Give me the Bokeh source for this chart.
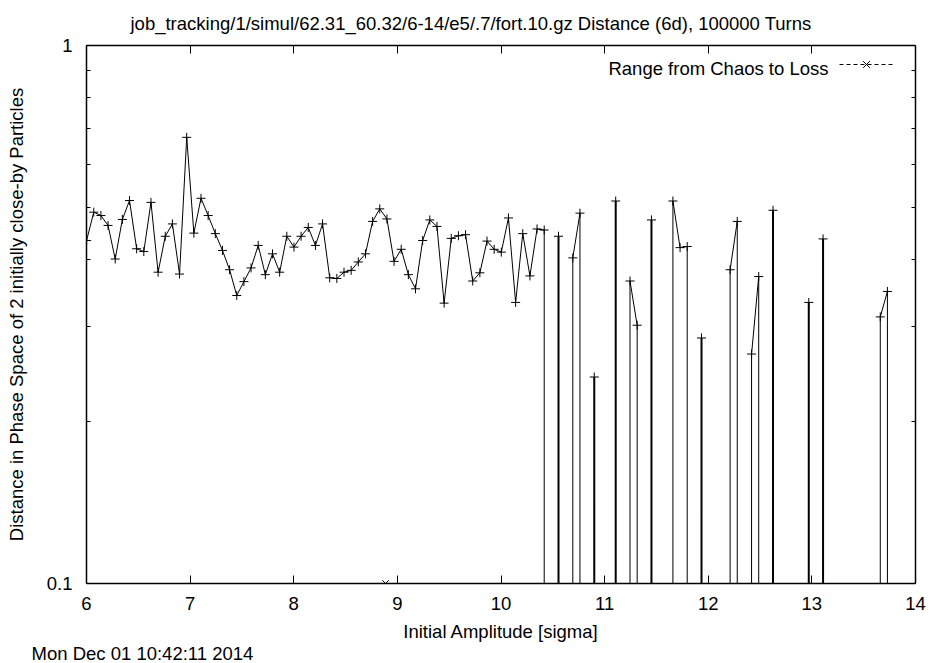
import numpy as np
from bokeh.plotting import figure
from bokeh.models import (Range1d, FixedTicker, LinearAxis, LogAxis, Label, Legend,
                          LegendItem, CustomJSTickFormatter, Title)
from bokeh.core.properties import value
from bokeh.embed import file_html
from bokeh.resources import INLINE

title_text = "job_tracking/1/simul/62.31_60.32/6-14/e5/.7/fort.10.gz Distance (6d),  100000 Turns"
x_label = "Initial Amplitude [sigma]"
y_label = "Distance in Phase Space of 2 initially close-by Particles"
date_text = "Mon Dec 01 10:42:11 2014"
legend_text = "Range from Chaos to Loss"

# initial amplitude of each particle pair [sigma]
amplitude = [
    6.001, 6.070, 6.139, 6.208, 6.277, 6.346, 6.415, 6.484, 6.553, 6.622,
    6.691, 6.760, 6.829, 6.898, 6.967, 7.036, 7.105, 7.174, 7.243, 7.312,
    7.381, 7.450, 7.519, 7.588, 7.657, 7.726, 7.795, 7.864, 7.933, 8.002,
    8.071, 8.140, 8.209, 8.278, 8.347, 8.416, 8.485, 8.554, 8.623, 8.692,
    8.761, 8.830, 8.899, 8.968, 9.037, 9.106, 9.175, 9.244, 9.313, 9.382,
    9.451, 9.520, 9.589, 9.658, 9.727, 9.796, 9.865, 9.934, 10.003, 10.072,
    10.141, 10.210, 10.279, 10.348, 10.417, 10.486, 10.555, 10.624, 10.693, 10.762,
    10.831, 10.900, 10.969, 11.038, 11.107, 11.176, 11.245, 11.314, 11.383, 11.452,
    11.521, 11.590, 11.659, 11.728, 11.797, 11.866, 11.935, 12.004, 12.073, 12.142,
    12.211, 12.280, 12.349, 12.418, 12.487, 12.556, 12.625, 12.694, 12.763, 12.832,
    12.901, 12.970, 13.039, 13.108, 13.177, 13.246, 13.315, 13.384, 13.453, 13.522,
    13.591, 13.660, 13.729, 13.798,
]
# distance in phase space (None = particle lost)
distance = [
    0.434, 0.490, 0.483, 0.463, 0.401, 0.475, 0.515, 0.419, 0.414, 0.511,
    0.379, 0.442, 0.466, 0.376, 0.675, 0.448, 0.520, 0.483, 0.447, 0.416,
    0.383, 0.343, 0.364, 0.386, 0.425, 0.375, 0.410, 0.379, 0.442, 0.422,
    0.442, 0.459, 0.425, 0.466, 0.370, 0.369, 0.379, 0.382, 0.396, 0.410,
    0.471, 0.497, 0.476, 0.397, 0.418, 0.375, 0.353, 0.434, 0.474, 0.461,
    0.332, 0.438, 0.443, 0.445, 0.365, 0.378, 0.433, 0.418, 0.413, 0.478,
    0.333, 0.447, 0.373, 0.456, 0.454, None, 0.442, None, 0.403, 0.488,
    None, 0.242, None, None, 0.514, None, 0.365, 0.302, None, 0.474,
    None, None, 0.514, 0.421, 0.423, None, 0.286, None, None, None,
    0.383, 0.471, None, 0.267, 0.372, None, 0.494, None, None, None,
    None, 0.333, None, 0.437, None, None, None, None, None, None,
    None, 0.313, 0.349, None,
]
chaos_loss_amp = [8.886]
chaos_loss_dist = [0.1]

x_ticks = [6, 7, 8, 9, 10, 11, 12, 13, 14]
y_ticks = [0.1, 1]
y_minor_ticks = [0.2, 0.3, 0.4, 0.5, 0.6, 0.7, 0.8, 0.9]

FONT = "Liberation Sans"
FS = "18.5px"
FRAME_L, FRAME_B = 86, 583

y_lo, y_hi = 0.1, 1.0
p = figure(width=929, height=663, x_range=Range1d(6, 14), y_range=Range1d(y_lo, y_hi),
           y_axis_type="log", output_backend="svg", toolbar_location=None, title=None,
           min_border_left=86, min_border_right=14, min_border_top=45, min_border_bottom=80)
p.grid.visible = False
p.outline_line_color = None
p.background_fill_color = "white"
p.border_fill_color = "white"

def style_axis(ax):
    ax.major_tick_in = 8
    ax.major_tick_out = 0
    ax.minor_tick_in = 4
    ax.minor_tick_out = 0
    ax.axis_line_width = 1.5
    ax.axis_line_color = "black"
    ax.major_tick_line_color = "black"
    ax.minor_tick_line_color = "black"
    ax.major_label_text_font = FONT
    ax.major_label_text_font_size = FS
    ax.major_label_text_color = "black"
    ax.axis_label_text_font = FONT
    ax.axis_label_text_font_size = FS
    ax.axis_label_text_font_style = "normal"
    ax.axis_label_text_color = "black"

xa = p.xaxis[0]
style_axis(xa)
xa.ticker = FixedTicker(ticks=x_ticks, minor_ticks=[])
xa.major_label_standoff = 13
xa.axis_label = x_label
xa.axis_label_standoff = 8

ya = p.yaxis[0]
style_axis(ya)
ya.ticker = FixedTicker(ticks=y_ticks, minor_ticks=y_minor_ticks)
ya.formatter = CustomJSTickFormatter(code="return tick.toString();")
ya.major_label_standoff = 14
ya.axis_label = y_label
ya.axis_label_standoff = 17

# mirrored ticks on the top and right borders (no labels)
top = LinearAxis()
style_axis(top)
top.ticker = FixedTicker(ticks=[], minor_ticks=x_ticks)
top.minor_tick_in = 8
p.add_layout(top, "above")
right = LogAxis()
style_axis(right)
right.ticker = FixedTicker(ticks=[], minor_ticks=y_minor_ticks)
p.add_layout(right, "right")

dist_arr = np.array(distance, dtype=float)
p.line(amplitude, dist_arr, line_color="black", line_width=1)
p.scatter(amplitude, dist_arr, marker="cross", size=9, line_color="black", line_width=1)

# drops to lost neighbours drawn as impulses down to the lower border
seg_x, seg_top, seg_w = [], [], []
n = len(distance)
for i, v in enumerate(distance):
    if v is None:
        continue
    miss = sum(1 for j in (i - 1, i + 1) if 0 <= j < n and distance[j] is None)
    if miss:
        seg_x.append(amplitude[i])
        seg_top.append(v)
        seg_w.append(1.0 if miss == 1 else 2.0)
p.segment(x0=seg_x, y0=[y_lo] * len(seg_x), x1=seg_x, y1=seg_top,
          line_color="black", line_width=seg_w)

cl_line = p.line(chaos_loss_amp, chaos_loss_dist, line_color="black", line_width=1, line_dash="4 3")
cl_pts = p.scatter(chaos_loss_amp, chaos_loss_dist, marker="x", size=9, line_color="black", line_width=1)

p.add_layout(Label(x=828 - FRAME_L, y=FRAME_B - 68, text=legend_text, text_align="right",
                   x_units="screen", y_units="screen", text_font=FONT, text_font_size=FS,
                   text_color="black", text_baseline="alphabetic"))

leg = Legend(items=[LegendItem(label=value(" "), renderers=[cl_line, cl_pts])],
             location=(839 - FRAME_L, FRAME_B - 76), glyph_width=54, glyph_height=24,
             label_standoff=0, padding=0, margin=0, spacing=0,
             border_line_color=None, background_fill_alpha=0,
             label_text_font=FONT, label_text_font_size=FS)
p.add_layout(leg, "center")

title = Title(text=title_text, align="left", vertical_align="top", text_font=FONT,
              text_font_size=FS, text_font_style="normal", text_color="black",
              standoff=19, offset=130 - FRAME_L)
p.add_layout(title, "above")

date = Title(text=date_text, align="left", text_font=FONT, text_font_size=FS,
             text_font_style="normal", text_color="black", standoff=-8,
             offset=31 - FRAME_L)
p.add_layout(date, "below")

open("out.html", "w").write(file_html(p, INLINE))
